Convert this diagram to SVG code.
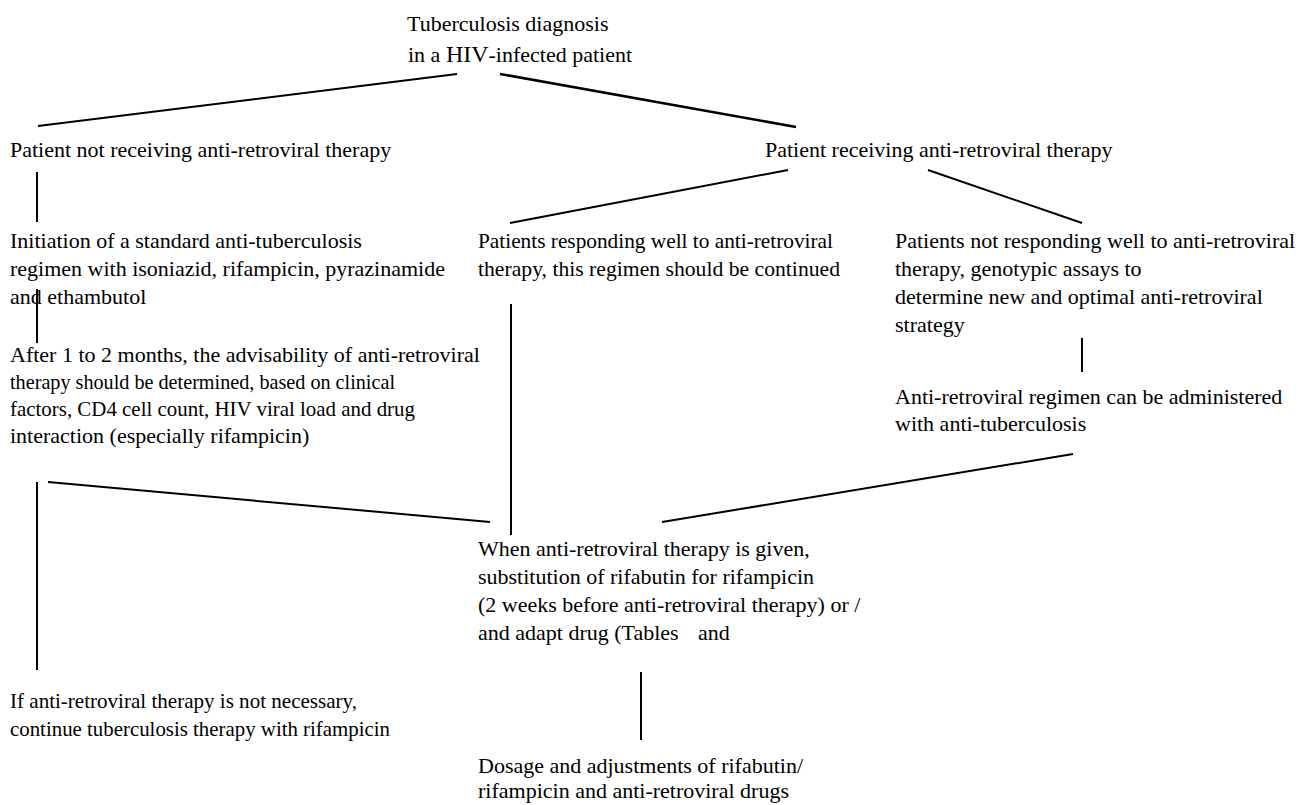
<svg xmlns="http://www.w3.org/2000/svg" width="1311" height="805" viewBox="0 0 1311 805">
<style>
text{font-family:"Liberation Serif","Times New Roman",serif;font-size:22px;fill:#000}
.big{font-size:24px}
line{stroke:#000;stroke-width:2;fill:none}
.thick{stroke-width:2.6}
</style>
<rect width="1311" height="805" fill="#fff"/>
<g id="connectors">
<line x1="457" y1="74" x2="38" y2="126"/>
<line class="thick" x1="500" y1="74" x2="796" y2="127"/>
<line x1="37" y1="172" x2="37" y2="222"/>
<line x1="788" y1="170" x2="510" y2="223"/>
<line x1="928" y1="170" x2="1082" y2="223"/>
<line x1="37" y1="289" x2="37" y2="343"/>
<line x1="511" y1="304" x2="511" y2="535"/>
<line x1="1082" y1="338" x2="1082" y2="372"/>
<line x1="48" y1="482" x2="490" y2="522"/>
<line x1="1073" y1="454" x2="662" y2="522"/>
<line x1="37" y1="482" x2="37" y2="670"/>
<line x1="641" y1="672" x2="641" y2="740"/>
</g>
<g id="n-root">
<text x="407" y="31">Tuberculosis diagnosis</text>
<text x="408" y="62">in a <tspan class="big">HIV</tspan>-infected patient</text>
</g>
<g id="n-not-receiving">
<text x="10" y="157">Patient not receiving anti-retroviral therapy</text>
</g>
<g id="n-receiving">
<text x="765" y="157">Patient receiving anti-retroviral therapy</text>
</g>
<g id="n-initiation">
<text x="10" y="248">Initiation of a standard anti-tuberculosis</text>
<text x="10" y="276">regimen with isoniazid, rifampicin, pyrazinamide</text>
<text x="10" y="304">and ethambutol</text>
</g>
<g id="n-responding">
<text x="478" y="248" textLength="355" lengthAdjust="spacingAndGlyphs">Patients responding well to anti-retroviral</text>
<text x="478" y="276" textLength="362" lengthAdjust="spacingAndGlyphs">therapy, this regimen should be continued</text>
</g>
<g id="n-not-responding">
<text x="895" y="248">Patients not responding well to anti-retroviral</text>
<text x="895" y="276">therapy, genotypic assays to</text>
<text x="895" y="304">determine new and optimal anti-retroviral</text>
<text x="895" y="332">strategy</text>
</g>
<g id="n-after">
<text x="10" y="362">After 1 to 2 months, the advisability of anti-retroviral</text>
<text x="10" y="389" textLength="385" lengthAdjust="spacingAndGlyphs">therapy should be determined, based on clinical</text>
<text x="10" y="416" textLength="405" lengthAdjust="spacingAndGlyphs">factors, CD4 cell count, HIV viral load and drug</text>
<text x="10" y="443">interaction (especially rifampicin)</text>
</g>
<g id="n-regimen">
<text x="895" y="404">Anti-retroviral regimen can be administered</text>
<text x="895" y="431">with anti-tuberculosis</text>
</g>
<g id="n-when">
<text x="478" y="556">When anti-retroviral therapy is given,</text>
<text x="478" y="584">substitution of rifabutin for rifampicin</text>
<text x="478" y="612">(2 weeks before anti-retroviral therapy) or /</text>
<text x="478" y="640">and adapt drug (Tables<tspan x="698">and</tspan></text>
</g>
<g id="n-not-necessary">
<text x="10" y="708" textLength="347" lengthAdjust="spacingAndGlyphs">If anti-retroviral therapy is not necessary,</text>
<text x="10" y="736" textLength="380" lengthAdjust="spacingAndGlyphs">continue tuberculosis therapy with rifampicin</text>
</g>
<g id="n-dosage">
<text x="478" y="773">Dosage and adjustments of rifabutin/</text>
<text x="478" y="798">rifampicin and anti-retroviral drugs</text>
</g>
</svg>
